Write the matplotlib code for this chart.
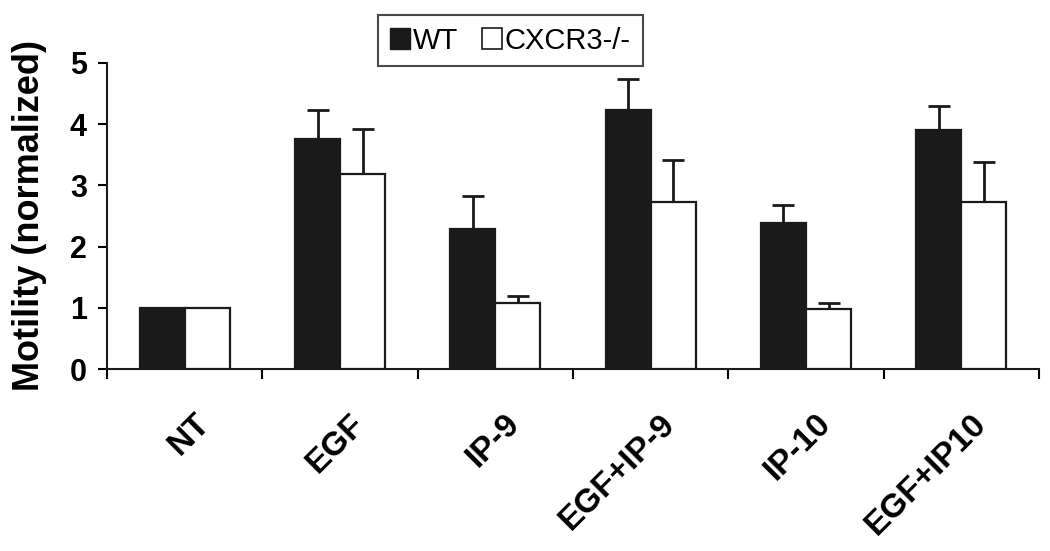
import matplotlib
matplotlib.use("Agg")
import matplotlib.pyplot as plt
from matplotlib.patches import Patch
from matplotlib.transforms import ScaledTranslation
import numpy as np

plt.rcParams["font.family"] = ["Liberation Sans", "DejaVu Sans"]

categories = ["NT", "EGF", "IP-9", "EGF+IP-9", "IP-10", "EGF+IP10"]
wt = [1.0, 3.76, 2.29, 4.23, 2.39, 3.91]
wt_err = [0.0, 0.47, 0.54, 0.51, 0.29, 0.39]
ko = [1.0, 3.19, 1.08, 2.73, 0.98, 2.73]
ko_err = [0.0, 0.73, 0.11, 0.69, 0.10, 0.65]

fig = plt.figure(figsize=(10.5, 5.51), dpi=100)
ax = fig.add_axes([0.102, 0.330, 0.8875, 0.556])

x = np.arange(len(categories))
w = 0.29
bar_kw = dict(width=w, edgecolor="#1a1a1a", linewidth=1.6, zorder=3)
err_kw = dict(ecolor="#1a1a1a", elinewidth=2, capsize=8, capthick=2)

ax.bar(x - w / 2, wt, color="#1a1a1a", **bar_kw)
ax.bar(x + w / 2, ko, color="white", **bar_kw)
# upper error bars only
ax.errorbar(x - w / 2, wt, yerr=[np.zeros(len(wt)), wt_err], fmt="none", zorder=2, **err_kw)
ax.errorbar(x + w / 2, ko, yerr=[np.zeros(len(ko)), ko_err], fmt="none", zorder=2, **err_kw)

ax.set_xlim(-0.5, len(categories) - 0.5)
ax.set_ylim(0, 5)
ax.set_yticks(range(6))
ax.tick_params(axis="y", direction="out", length=6.5, width=1.5, pad=8, labelsize=22)
for lab in ax.get_yticklabels():
    lab.set_fontweight("bold")

ax.set_xticks(np.arange(-0.5, len(categories)), labels=[""] * (len(categories) + 1))
ax.tick_params(axis="x", which="major", direction="out", length=7, width=1.5)
ax.set_xticks(x, labels=categories, minor=True)
ax.tick_params(axis="x", which="minor", length=0, pad=28, labelsize=24)
for lab in ax.get_xticklabels(minor=True):
    lab.set_fontweight("bold")
    lab.set_rotation(45)
    lab.set_ha("right")
    lab.set_va("top")
    lab.set_rotation_mode("anchor")
    lab.set_transform(lab.get_transform() + ScaledTranslation(0.09, 0, fig.dpi_scale_trans))

for s in ["top", "right"]:
    ax.spines[s].set_visible(False)
for s in ["left", "bottom"]:
    ax.spines[s].set_linewidth(1.5)
    ax.spines[s].set_color("#1a1a1a")

ax.set_ylabel("Motility (normalized)", fontsize=26, fontweight="bold")
ax.yaxis.set_label_coords(-0.064, 0.5)

handles = [Patch(facecolor="#1a1a1a", edgecolor="#1a1a1a", label="WT"),
           Patch(facecolor="white", edgecolor="#1a1a1a", linewidth=1.2, label="CXCR3-/-")]
leg = fig.legend(handles=handles, loc="center", bbox_to_anchor=(0.486, 0.926), ncol=2,
                 fontsize=21, frameon=True, fancybox=False, edgecolor="#1a1a1a",
                 handlelength=0.7, handleheight=0.7, handletextpad=0.1,
                 columnspacing=0.8, borderpad=0.4, borderaxespad=0)
leg.get_frame().set_linewidth(1.5)

fig.savefig("out.png", dpi=100)
